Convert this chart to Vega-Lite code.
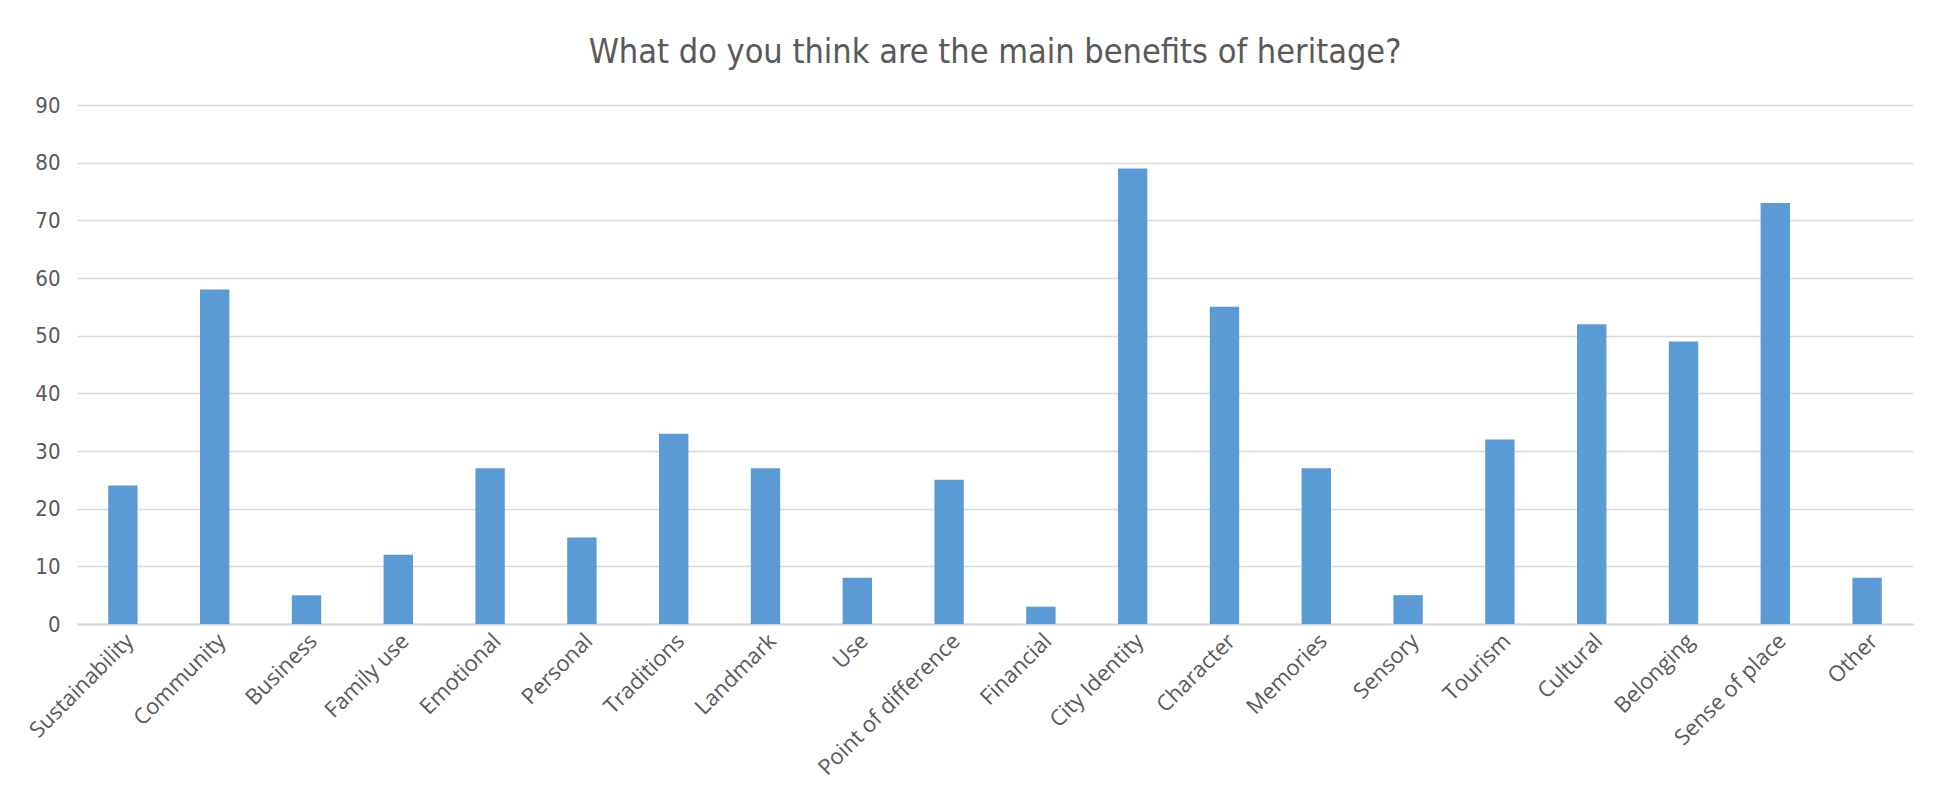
{
  "$schema": "https://vega.github.io/schema/vega-lite/v6.json",
  "autosize": {"type": "none"},
  "width": 1836,
  "height": 519,
  "padding": {"left": 77, "top": 105, "right": 31, "bottom": 179},
  "background": "white",
  "title": {
    "text": "What do you think are the main benefits of heritage?",
    "anchor": "middle",
    "frame": "group",
    "offset": 24,
    "font": "Liberation Sans Narrow, DejaVu Sans Condensed, Roboto",
    "fontSize": 34,
    "fontWeight": "normal",
    "color": "#595959"
  },
  "data": {
    "values": [
      {"benefit": "Sustainability", "count": 24},
      {"benefit": "Community", "count": 58},
      {"benefit": "Business", "count": 5},
      {"benefit": "Family use", "count": 12},
      {"benefit": "Emotional", "count": 27},
      {"benefit": "Personal", "count": 15},
      {"benefit": "Traditions", "count": 33},
      {"benefit": "Landmark", "count": 27},
      {"benefit": "Use", "count": 8},
      {"benefit": "Point of difference", "count": 25},
      {"benefit": "Financial", "count": 3},
      {"benefit": "City Identity", "count": 79},
      {"benefit": "Character", "count": 55},
      {"benefit": "Memories", "count": 27},
      {"benefit": "Sensory", "count": 5},
      {"benefit": "Tourism", "count": 32},
      {"benefit": "Cultural", "count": 52},
      {"benefit": "Belonging", "count": 49},
      {"benefit": "Sense of place", "count": 73},
      {"benefit": "Other", "count": 8}
    ]
  },
  "mark": {"type": "bar", "color": "#5B9BD5"},
  "encoding": {
    "x": {
      "field": "benefit",
      "type": "nominal",
      "sort": null,
      "scale": {"paddingInner": 0.68, "paddingOuter": 0.34},
      "axis": {
        "title": null,
        "labelAngle": -45,
        "labelFont": "Open Sans",
        "labelFontSize": 22,
        "labelColor": "#595959",
        "labelPadding": 6,
        "labelLimit": 400,
        "ticks": false,
        "domainColor": "#D9D9D9",
        "domainWidth": 2,
        "grid": false
      }
    },
    "y": {
      "field": "count",
      "type": "quantitative",
      "scale": {"domain": [0, 90]},
      "axis": {
        "title": null,
        "values": [0, 10, 20, 30, 40, 50, 60, 70, 80, 90],
        "labelFont": "Liberation Sans Narrow, DejaVu Sans Condensed, Roboto",
        "labelFontSize": 22,
        "labelColor": "#595959",
        "labelPadding": 17,
        "ticks": false,
        "domain": false,
        "grid": true,
        "gridColor": "#D9D9D9",
        "gridWidth": 1.5
      }
    }
  },
  "config": {
    "view": {"stroke": null}
  }
}
